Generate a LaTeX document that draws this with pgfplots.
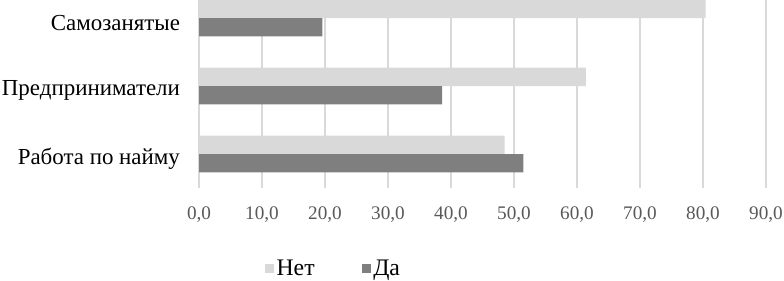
\documentclass[border=0pt]{standalone}
\usepackage{pgfplots}
\pgfplotsset{compat=1.18}
\usepackage{fontspec}
\setmainfont{Liberation Serif}
\definecolor{net}{HTML}{D9D9D9}
\definecolor{da}{HTML}{7F7F7F}
\definecolor{gridc}{HTML}{D9D9D9}
\definecolor{tickc}{HTML}{595959}
\begin{document}
\begin{tikzpicture}
\begin{axis}[
  at={(149.25pt,69pt)}, anchor=south west,
  scale only axis, width=425.25pt, height=141pt,
  xmin=0, xmax=90, ymin=-0.5, ymax=2.265,
  xtick={0,10,...,90},
  ytick={0,1,2},
  yticklabels={Работа по найму, Предприниматели, Самозанятые},
  xmajorgrids, grid style={gridc, line width=0.9pt},
  axis line style={draw=none},
  major tick style={draw=none},
  xticklabel style={font=\fontsize{14.4}{16}\selectfont, text=tickc, yshift=-10.5pt},
  yticklabel style={font=\fontsize{17.2}{19}\selectfont, text=black, xshift=-6.5pt, yshift=-3.5pt},
  /pgf/number format/.cd, fixed, fixed zerofill, precision=1, use comma, assume math mode=true,
  /pgfplots/.cd,
  xbar, bar width=13.8pt,
  legend style={at={(rel axis cs:0.1164,-0.43)}, anchor=west, draw=none, inner sep=0pt,
    font=\fontsize{17.8}{19}\selectfont, legend columns=2,
    /tikz/every even column/.append style={column sep=33.5pt}},
  legend image code/.code={\fill[#1] (0pt,-3.2pt) rectangle (6.5pt,3.6pt);},
]
\addplot[fill=net, draw=none, bar shift=6.9pt] coordinates {(48.5,0) (61.4,1) (80.4,2)};
\addlegendentry{Нет}
\addplot[fill=da, draw=none, bar shift=-6.9pt] coordinates {(51.5,0) (38.6,1) (19.6,2)};
\addlegendentry{Да}
\end{axis}
\pgfresetboundingbox
\useasboundingbox (0,0) rectangle (588pt,210pt);
\end{tikzpicture}
\end{document}
